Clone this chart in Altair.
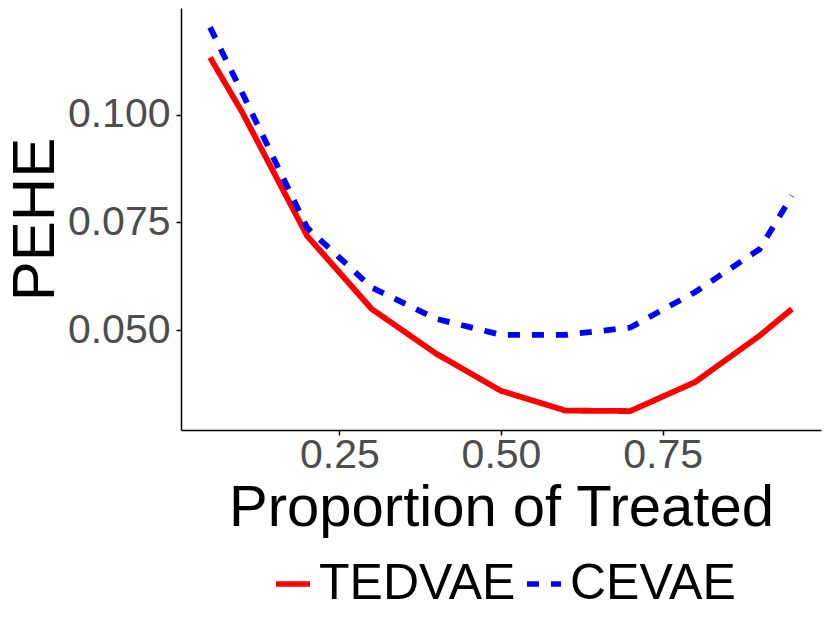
import altair as alt
import pandas as pd

x_vals = [0.05, 0.1, 0.2, 0.3, 0.4, 0.5, 0.6, 0.7, 0.8, 0.9, 0.95]
tedvae = [0.1133, 0.1005, 0.0719, 0.0549, 0.0445, 0.0359, 0.0313, 0.0312, 0.0379, 0.0487, 0.0549]
cevae = [0.1203, 0.1050, 0.0738, 0.0599, 0.0526, 0.0489, 0.0489, 0.0506, 0.0588, 0.0688, 0.0812]
methods = ["TEDVAE", "CEVAE"]
colors = ["#FF0000", "#0000FF"]
x_ticks = [0.25, 0.5, 0.75]
y_ticks = [0.05, 0.075, 0.1]

rows = []
for m, series in zip(methods, [tedvae, cevae]):
    for xv, yv in zip(x_vals, series):
        rows.append({"prop": xv, "pehe": yv, "method": m})
df = pd.DataFrame(rows)

legend_props = dict(
    title=None,
    orient="none",
    direction="horizontal",
    legendX=87,
    legendY=551,
    labelFontSize=50,
    labelColor="black",
    labelOffset=1,
    labelLimit=1000,
    columnPadding=0,
    symbolSize=1156,
    symbolStrokeWidth=5.5,
    symbolType="stroke",
)

chart = alt.Chart(df).mark_line(strokeWidth=5.8, strokeCap="butt").encode(
    x=alt.X(
        "prop:Q",
        scale=alt.Scale(domain=[0.005, 0.995], nice=False, zero=False),
        axis=alt.Axis(
            values=x_ticks, format=".2f", title="Proportion of Treated",
            labelBaseline="alphabetic", labelPadding=32,
            titleY=95, titleBaseline="alphabetic", titleFontSize=58,
        ),
    ),
    y=alt.Y(
        "pehe:Q",
        scale=alt.Scale(domain=[0.0268, 0.1248], nice=False, zero=False),
        axis=alt.Axis(
            values=y_ticks, format=".3f", title="PEHE",
            labelPadding=6, labelBaseline="middle",
            titleX=-128, titleBaseline="alphabetic", titleFontSize=60,
        ),
    ),
    color=alt.Color(
        "method:N",
        sort=methods,
        scale=alt.Scale(domain=methods, range=colors),
        legend=alt.Legend(**legend_props),
    ),
    strokeDash=alt.StrokeDash(
        "method:N",
        sort=methods,
        scale=alt.Scale(domain=methods, range=[[1, 0], [12, 12]]),
        legend=alt.Legend(**legend_props),
    ),
).properties(
    width=640,
    height=422,
    padding={"left": 173, "top": 0, "right": 1, "bottom": 185},
    autosize="none",
).configure(
    font="Liberation Sans",
).configure_view(
    stroke=None,
).configure_axis(
    grid=False,
    domainColor="black",
    domainWidth=1.5,
    tickColor="black",
    tickWidth=1.5,
    tickSize=5,
    labelFontSize=41,
    labelColor="#4D4D4D",
    titleColor="black",
    titleFontWeight="normal",
    labelFont="Liberation Sans",
    titleFont="Liberation Sans",
).configure_legend(
    labelFont="Liberation Sans",
)

chart.save("out.html", embed_options={"renderer": "svg", "actions": False})
